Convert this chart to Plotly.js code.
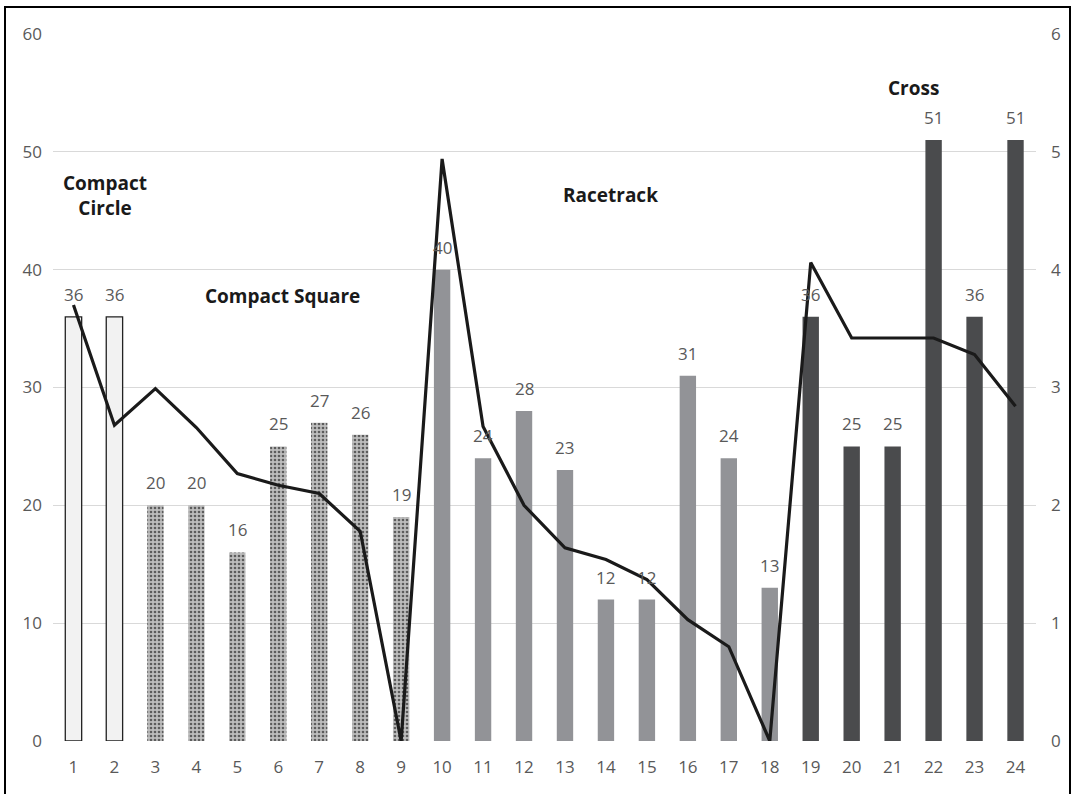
<!DOCTYPE html>
<html>
<head>
<meta charset="utf-8">
<script src="https://cdn.plot.ly/plotly-3.0.1.min.js"></script>
<style>
html,body{margin:0;padding:0;background:#fff;}
#frame{position:absolute;left:4px;top:6px;width:1067px;height:800px;border-left:2px solid #000;border-top:2px solid #000;border-right:2px solid #000;box-sizing:border-box;pointer-events:none;z-index:10;}
#chart{position:absolute;left:0;top:0;width:1073px;height:794px;}
</style>
</head>
<body>
<div id="chart"></div>
<div id="frame"></div>
<script>
const categories = ['1','2','3','4','5','6','7','8','9','10','11','12','13','14','15','16','17','18','19','20','21','22','23','24'];
const barValues = [36,36,20,20,16,25,27,26,19,40,24,28,23,12,12,31,24,13,36,25,25,51,36,51];
const lineValues = [3.70,2.68,2.99,2.66,2.27,2.17,2.10,1.78,0,4.94,2.67,2.00,1.64,1.54,1.37,1.03,0.80,0,4.06,3.42,3.42,3.42,3.28,2.84];
const groups = ['circle','circle','square','square','square','square','square','square','square',
  'race','race','race','race','race','race','race','race','race',
  'cross','cross','cross','cross','cross','cross'];
const groupLabels = [
  {text:'Compact<br>Circle', x:0.77, y:46.3},
  {text:'Compact Square', x:5.11, y:37.8},
  {text:'Racetrack', x:13.1, y:46.35},
  {text:'Cross', x:20.5, y:55.4}
];

const fillByGroup = {circle:'#f2f2f2', square:'#bdbdbd', race:'#929397', cross:'#4a4b4d'};
const lineByGroup = {circle:'#222', square:'rgba(0,0,0,0)', race:'rgba(0,0,0,0)', cross:'rgba(0,0,0,0)'};
const patByGroup = {circle:'', square:'.', race:'', cross:''};

const barTrace = {
  type:'bar', x:categories, y:barValues, width:0.4,
  marker:{
    color: groups.map(g=>fillByGroup[g]),
    line:{color: groups.map(g=>lineByGroup[g]), width:1.3},
    pattern:{shape: groups.map(g=>patByGroup[g]), fillmode:'overlay', fgcolor:'#6a6a6a', fgopacity:0.8, size:4, solidity:0.35}
  },
  hoverinfo:'none', showlegend:false
};
const lineTrace = {
  type:'scatter', mode:'lines', x:categories, y:lineValues, yaxis:'y2',
  line:{color:'#1a1a1a', width:3.2}, showlegend:false, hoverinfo:'none', cliponaxis:false
};

const valueLabels = barValues.map((v,i)=>({
  text:String(v), x:i, y:v, xref:'x', yref:'y', yanchor:'bottom', yshift:9, showarrow:false,
  font:{family:'Open Sans', size:17, color:'#595959'}
}));
const groupAnn = groupLabels.map(a=>({text:'<b>'+a.text+'</b>', x:a.x, y:a.y, xref:'x', yref:'y', showarrow:false,
  font:{family:'Open Sans', size:19, color:'#1a1a1a'}}));

const layout = {
  width:1073, height:794,
  margin:{l:53, r:37, t:34, b:53},
  paper_bgcolor:'#fff', plot_bgcolor:'#fff',
  font:{family:'Open Sans', color:'#595959', size:17},
  xaxis:{type:'category', showgrid:false, zeroline:false, showline:false, ticks:'', ticklabelstandoff:14, tickfont:{size:17, color:'#595959'}},
  yaxis:{range:[0,60], dtick:10, gridcolor:'#d9d9d9', gridwidth:1, zeroline:false, showline:false, ticks:'', ticklabelstandoff:10, tickfont:{size:17, color:'#595959'}},
  yaxis2:{range:[0,6], dtick:1, overlaying:'y', side:'right', showgrid:false, zeroline:false, showline:false, ticks:'', ticklabelstandoff:14, tickfont:{size:17, color:'#595959'}},
  bargap:0.6,
  annotations: valueLabels.concat(groupAnn)
};
Plotly.newPlot('chart', [barTrace, lineTrace], layout, {displayModeBar:false, staticPlot:true});
</script>
</body>
</html>
